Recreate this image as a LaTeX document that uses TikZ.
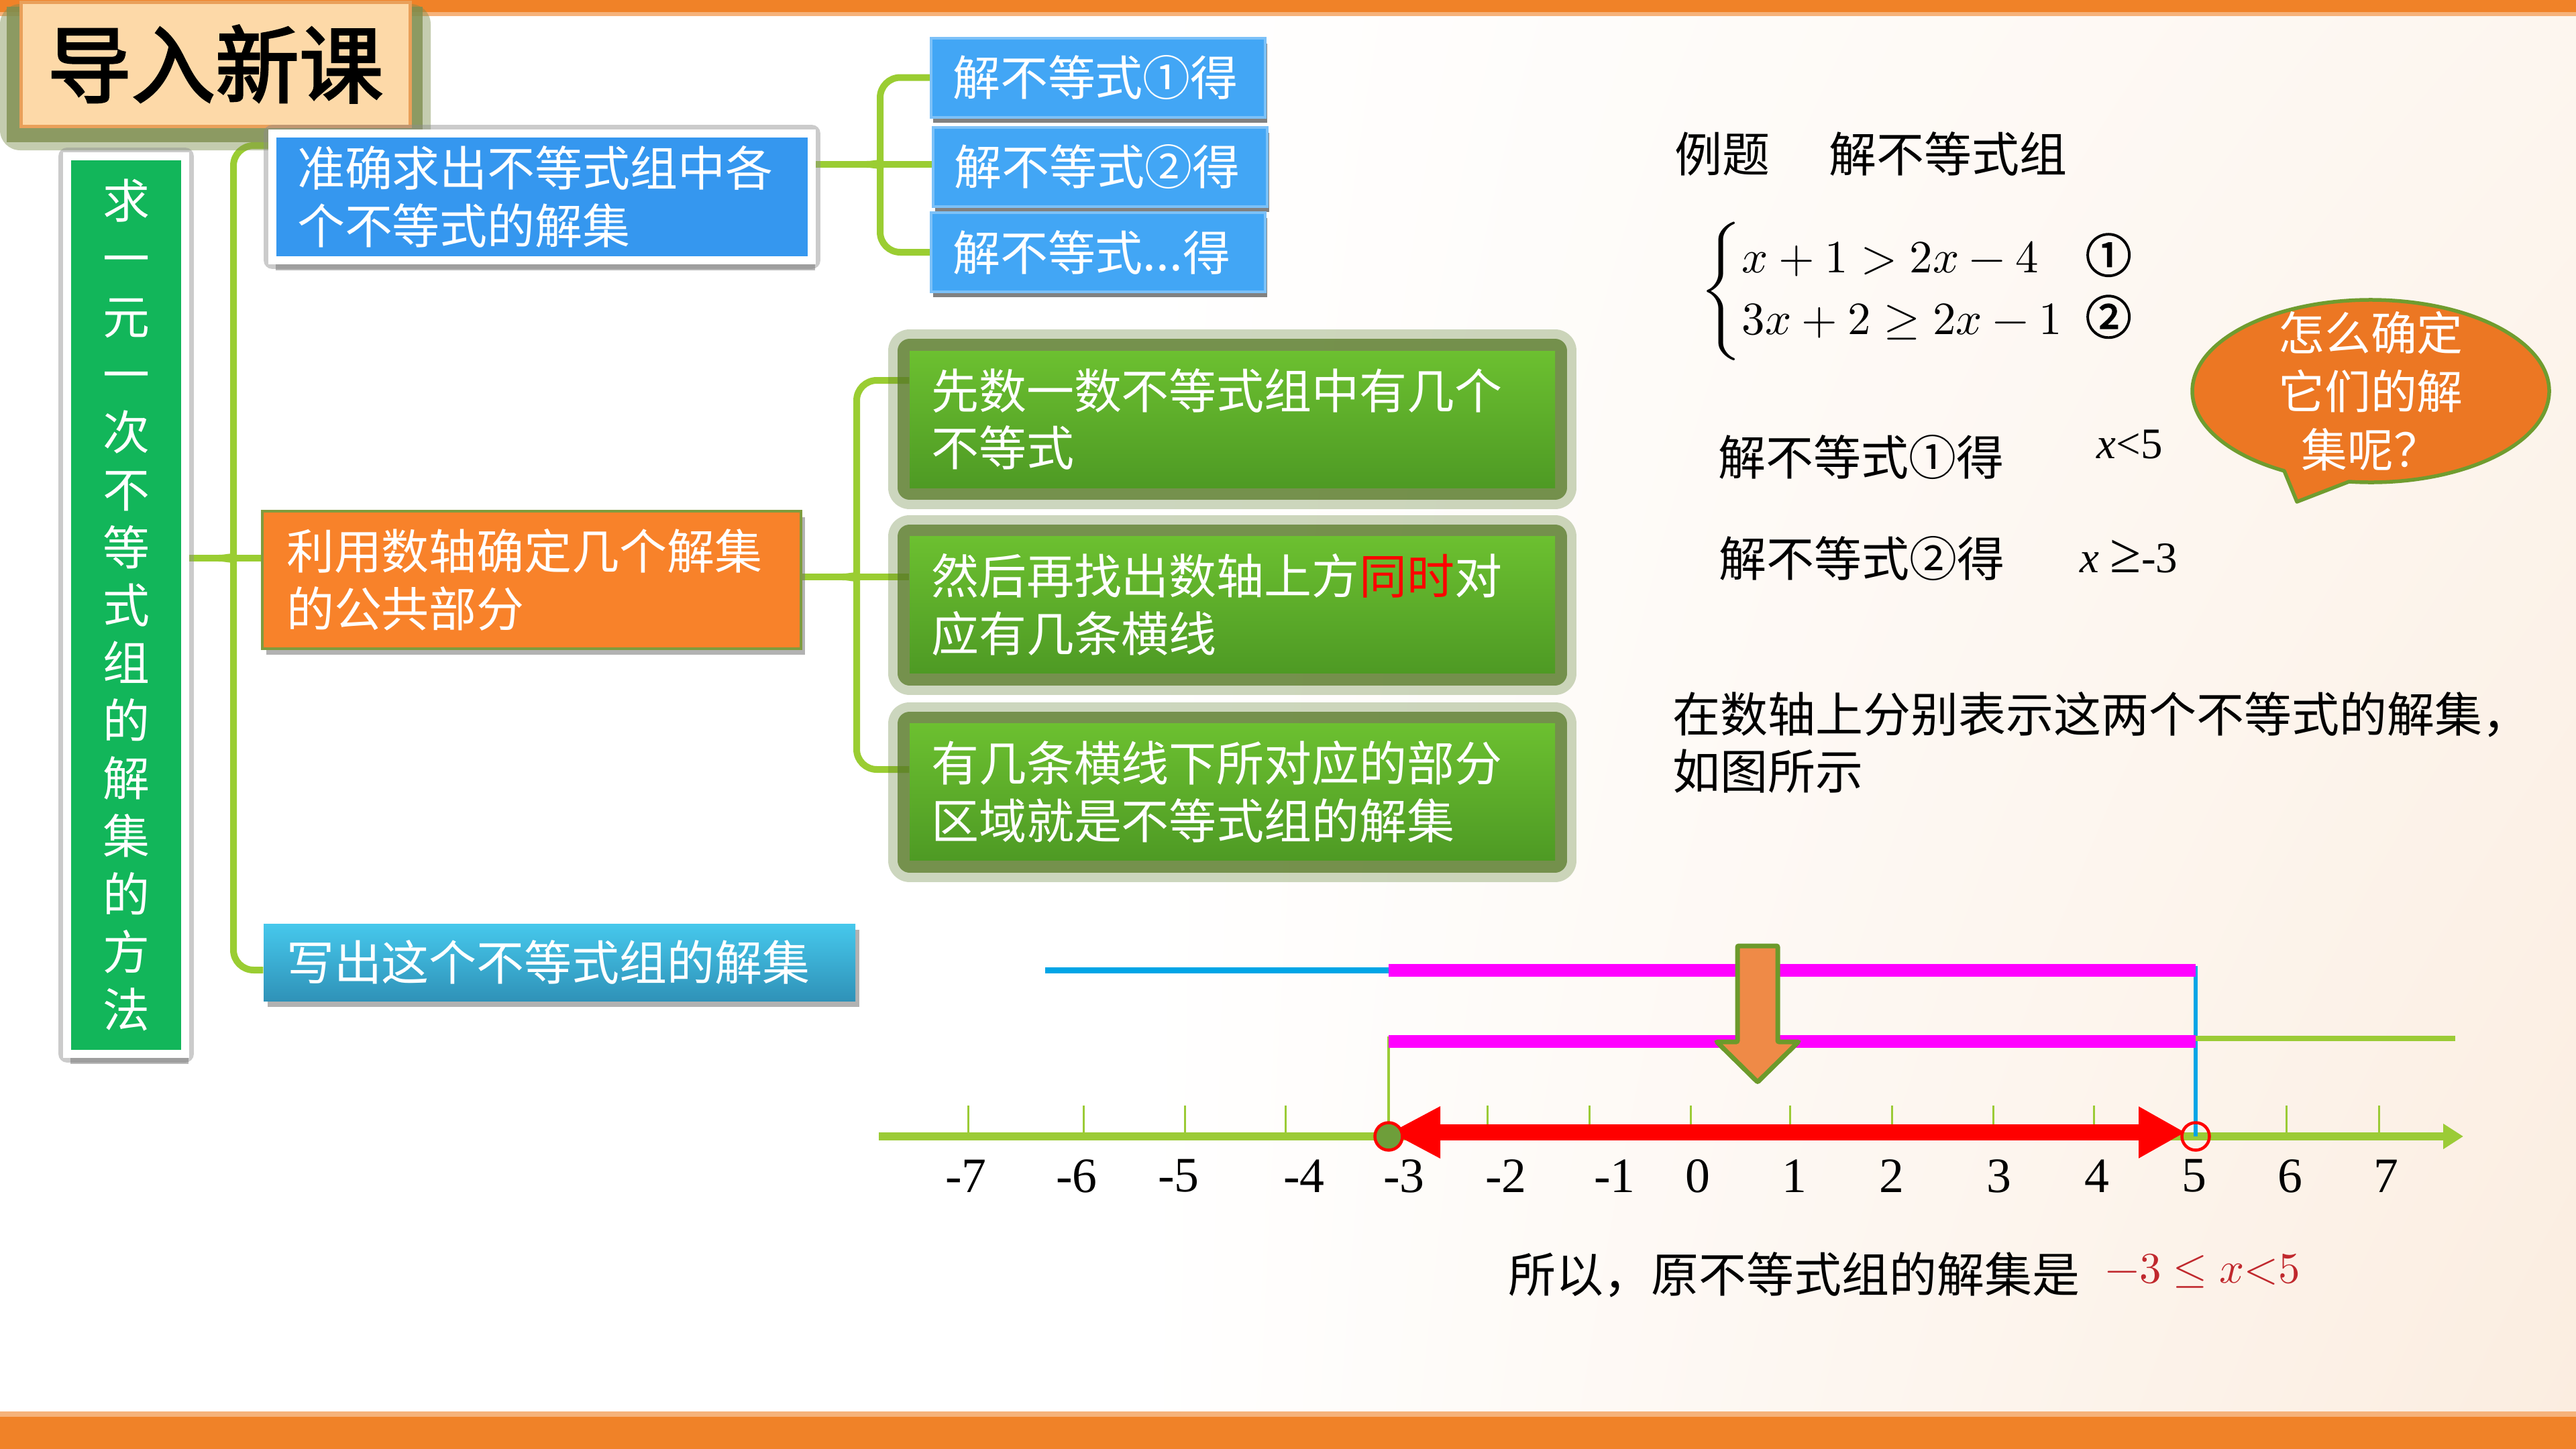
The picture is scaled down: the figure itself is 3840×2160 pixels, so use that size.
\documentclass[tikz,border=0pt]{standalone}
\usepackage{fontspec}
\usepackage{unicode-math}
\setmathfont{Latin Modern Math}
\newfontfamily\cjk{Noto Sans CJK SC}
\newfontfamily\cjkb[FakeBold=2.5]{Noto Sans CJK SC}
\newfontfamily\tms{Liberation Serif}
\usetikzlibrary{shadows,shadings,calc,arrows.meta}
\definecolor{topbar}{HTML}{F08228}
\definecolor{topstrip}{HTML}{F6B27A}
\definecolor{titlefill}{HTML}{FDD9A8}
\definecolor{titledraw}{HTML}{E9A05A}
\definecolor{titleshadow}{HTML}{7E8E4F}
\definecolor{vgreen}{HTML}{12B65A}
\definecolor{bluebig}{HTML}{3597EF}
\definecolor{bluesmall}{HTML}{42A6F5}
\definecolor{bluesmalldraw}{HTML}{7CC1F8}
\definecolor{orangebox}{HTML}{F8822A}
\definecolor{obdraw}{HTML}{7F9C3E}
\definecolor{cyantop}{HTML}{46C8EC}
\definecolor{cyanbot}{HTML}{2F92B8}
\definecolor{gtop}{HTML}{6CC030}
\definecolor{gbot}{HTML}{4E9A24}
\definecolor{glow}{HTML}{587A28}
\definecolor{linkgreen}{HTML}{9ACD32}
\definecolor{bubblefill}{HTML}{EC7723}
\definecolor{bubbledraw}{HTML}{6F9C2F}
\definecolor{magbar}{HTML}{FF00FF}
\definecolor{bline}{HTML}{00A5E6}
\definecolor{axisgreen}{HTML}{9BCB36}
\definecolor{dotgreen}{HTML}{6E9E3A}
\definecolor{redarr}{HTML}{FF0000}
\definecolor{arrowfill}{HTML}{EF8A47}
\definecolor{arrowdraw}{HTML}{6C9A2B}
\definecolor{resred}{HTML}{C0282D}
\definecolor{warmbg}{HTML}{FBEDE0}
\definecolor{warmmid}{HTML}{FDF6EF}
\pgfdeclarelayer{bg}
\pgfdeclarelayer{background}
\pgfsetlayers{bg,background,main}
\begin{document}
\begin{tikzpicture}[x=0.1mm,y=-0.1mm,
  every node/.style={inner sep=0pt},
  cn/.style={font=\cjk\fontsize{20.2pt}{24.3pt}\selectfont},
  link/.style={draw=linkgreen,line width=1mm},
  boxbase/.style={cn,text=white,align=left},
  shad/.style={drop shadow={shadow xshift=0.6mm,shadow yshift=-0.9mm,fill=black!55,opacity=.55}},
  framed/.style={draw=white,line width=1.2mm,
    preaction={draw=black!45,line width=2.6mm,draw opacity=.45,line join=round},
    drop shadow={shadow xshift=0.5mm,shadow yshift=-1.5mm,fill=black!55,opacity=.5}},
  sbox/.style={boxbase,fill=bluesmall,draw=bluesmalldraw,line width=0.4mm,minimum width=49.8mm,minimum height=11.8mm,text width=43.4mm,
    drop shadow={shadow xshift=0.3mm,shadow yshift=-0.8mm,fill=black!70,opacity=.7}},
  gbox/.style={boxbase,top color=gtop,bottom color=gbot,minimum width=96.2mm,minimum height=20.4mm,text width=89.8mm,
    preaction={draw=glow,line width=6.4mm,draw opacity=.3,line join=round},
    preaction={draw=glow,line width=3.6mm,draw opacity=.75,line join=round}},
  numlbl/.style={font=\tms\fontsize{21pt}{24pt}\selectfont},
  tick/.style={draw=axisgreen,line width=0.3mm},
]
\useasboundingbox (0,0) rectangle (3840,2160);
\begin{pgfonlayer}{bg}
\fill[white] (0,0) rectangle (3840,2160);
\shade[upper left=white,lower left=white,upper right=warmmid,lower right=warmbg] (1700,24) rectangle (3840,2106);
\end{pgfonlayer}
% bars
\fill[topbar] (0,0) rectangle (3840,18);
\fill[topstrip] (0,18) rectangle (3840,24);
\fill[topstrip] (0,2104) rectangle (3840,2112);
\fill[topbar] (0,2112) rectangle (3840,2160);

% title
\fill[titleshadow,opacity=.45,rounded corners=3mm] (0,6) rectangle (642,224);
\fill[titleshadow,opacity=.8] (10,10) rectangle (630,212);
\node[fill=titlefill,draw=titledraw,line width=0.5mm,minimum width=58mm,minimum height=18.5mm,
  font=\cjkb\fontsize{35.6pt}{40pt}\selectfont] (title) at (321,95.5) {导入新课};

% left vertical box
\node[boxbase,fill=vgreen,framed,minimum width=17.6mm,minimum height=133.8mm,
  text width=7.2mm,align=center,font=\cjk\fontsize{19.9pt}{24.5pt}\selectfont] (vbox) at (188,902)
  {求\\一\\元\\一\\次\\不\\等\\式\\组\\的\\解\\集\\的\\方\\法};

% level 1 boxes
\node[boxbase,fill=bluebig,framed,minimum width=80.4mm,minimum height=18.9mm,
  text width=73mm] (B1) at (808,293.5) {准确求出不等式组中各\\个不等式的解集};
\node[boxbase,fill=orangebox,draw=obdraw,line width=0.35mm,minimum width=80.3mm,minimum height=20.5mm,
  text width=73.1mm,shad] (O) at (792.5,864.5) {利用数轴确定几个解集\\的公共部分};
\node[boxbase,top color=cyantop,bottom color=cyanbot,minimum width=88.2mm,minimum height=11.5mm,
  text width=81.4mm,shad] (W) at (834,1434.5) {写出这个不等式组的解集};

% level 2 boxes
\node[sbox] (S1) at (1637,115.5) {解不等式①得};
\node[sbox] (S2) at (1639.5,249) {解不等式②得};
\node[sbox] (S3) at (1637,376) {解不等式...得};
\node[gbox] (G1) at (1837,625) {先数一数不等式组中有几个\\不等式};
\node[gbox] (G2) at (1837,901.5) {然后再找出数轴上方\textcolor{red}{同时}对\\应有几条横线};
\node[gbox] (G3) at (1837,1180.5) {有几条横线下所对应的部分\\区域就是不等式组的解集};

% connectors (brackets)
\coordinate (k1) at (348,832);
\coordinate (k1t) at (348,217);
\coordinate (k1b) at (348,1446);
\coordinate (k2) at (1312,245);
\coordinate (k3) at (1277,860);
\coordinate (k3t) at (1277,567);
\coordinate (k3b) at (1277,1147);
\begin{pgfonlayer}{background}
\draw[link] (vbox.east |- k1) -- (O.west |- k1);
\draw[link] (B1.west |- k1t) [rounded corners=3mm] -- (k1t) -- (348,807) [sharp corners] .. controls (348,826) and (343,832) .. (326,832);
\draw[link] (W.west |- k1b) [rounded corners=3mm] -- (k1b) -- (348,857) [sharp corners] .. controls (348,838) and (343,832) .. (326,832);
\draw[link] (B1.east |- k2) -- (S2.west |- k2);
\draw[link] (S1.west) [rounded corners=3mm] -- (S1.west -| k2) -- (1312,222) [sharp corners] .. controls (1312,239) and (1307,245) .. (1292,245);
\draw[link] (S3.west) [rounded corners=3mm] -- (S3.west -| k2) -- (1312,268) [sharp corners] .. controls (1312,251) and (1307,245) .. (1292,245);
\draw[link] (O.east |- k3) -- (G2.west |- k3);
\draw[link] (G1.west |- k3t) [rounded corners=3mm] -- (k3t) -- (1277,835) [sharp corners] .. controls (1277,854) and (1272,860) .. (1256,860);
\draw[link] (G3.west |- k3b) [rounded corners=3mm] -- (k3b) -- (1277,885) [sharp corners] .. controls (1277,866) and (1272,860) .. (1256,860);
\end{pgfonlayer}

% right-hand texts
\node[cn,anchor=west] (ex) at (2496,229) {例题\hspace{8.8mm}解不等式组};
\node[anchor=west,font=\fontsize{19.6pt}{26.2pt}\selectfont] (eq) at (2534,434)
  {$\left\{\begin{array}{@{}l@{\hspace{3.5mm}}l@{}} x+1>2x-4 & \mbox{\cjkb ①}\\ 3x+2\geq 2x-1 & \mbox{\cjkb ②}\end{array}\right.$};
\node[cn,anchor=west] (s1) at (2561,682) {解不等式①得};
\node[anchor=west,font=\tms\fontsize{18.5pt}{21pt}\selectfont] (r1) at (3125,663) {\textit{x}<5};
\node[cn,anchor=west] (s2) at (2562,833) {解不等式②得};
\node[anchor=west,font=\tms\fontsize{18.5pt}{21pt}\selectfont] (r2) at (3100,830) {\textit{x} {\fontsize{24pt}{24pt}\selectfont ≥}-3};
\node[cn,anchor=west,align=left] (desc) at (2493,1107) {在数轴上分别表示这两个不等式的解集，\\如图所示};

% speech bubble
\coordinate (bc) at (3534,583);
\coordinate (btip) at (3424,748);
\filldraw[fill=bubblefill,draw=bubbledraw,line width=0.55mm,line join=round]
  ($(bc)+(263:26.6mm and 13.6mm)$) arc[start angle=263,end angle=601,x radius=26.6mm,y radius=13.6mm] -- (btip) -- cycle;
\node[text=white,align=center,font=\cjk\fontsize{19.6pt}{24.7pt}\selectfont] (bq) at (bc) {怎么确定\\它们的解\\集呢？};

% number line
\coordinate (axL) at (1310,1694);
\coordinate (axR) at (3672,1694);
\draw[draw=axisgreen,line width=1.2mm,-{Triangle[length=3mm,width=3.6mm]}] (axL) -- (axR);
\foreach \v/\px in {-7/1443,-6/1615,-5/1766,-4/1916,-3/2070,-2/2217,-1/2369,0/2520,1/2668,2/2820,3/2971,4/3121,5/3273,6/3408,7/3546}{
  \coordinate (t\v) at (\px,1694);
  \draw[tick] (t\v) -- ++(0,-46);
}
\foreach \v/\lx in {-7/1440,-6/1605,-5/1757,-4/1944,-3/2093,-2/2245,-1/2407,0/2531,1/2675,2/2820,3/2980,4/3126,5/3271,6/3414,7/3557}{
  \node[numlbl] (n\v) at (\lx,1753) {\v};
}
\coordinate (u1) at (1558,1446);
\coordinate (u2) at (2070,1446);
\coordinate (u3) at (3273,1446);
\coordinate (l1) at (2070,1552);
\coordinate (l2) at (3273,1552);
\coordinate (l2g) at (3273,1548);
\coordinate (l3) at (3660,1548);
\coordinate (vg) at (2070,1545);
\coordinate (vb) at (3273,1440);
\draw[draw=axisgreen,line width=0.45mm] (vg) -- (t-3);
\draw[draw=bline,line width=0.65mm] (vb) -- (t5);
\draw[draw=bline,line width=0.9mm] (u1) -- (u2);
\draw[draw=magbar,line width=1.9mm] (u2) -- (u3);
\draw[draw=magbar,line width=1.9mm] (l1) -- (l2);
\draw[draw=axisgreen,line width=0.8mm] (l2g) -- (l3);
\coordinate (ra1) at (2072,1688);
\coordinate (ra2) at (3258,1688);
\draw[draw=redarr,line width=2.4mm,{Triangle[length=7.5mm,width=7.2mm]}-{Triangle[length=7mm,width=7.2mm]}] (ra1) -- (ra2);
\draw[draw=redarr,line width=0.45mm,fill=dotgreen] (t-3) circle[radius=2.05mm];
\draw[draw=redarr,line width=0.45mm] (t5) circle[radius=2.05mm];
% orange down arrow
\filldraw[fill=arrowfill,draw=arrowdraw,line width=0.7mm,rounded corners=0.2mm]
  (2590,1410) -- (2650,1410) -- (2650,1553) -- (2681,1553) -- (2620,1613) -- (2559,1553) -- (2590,1553) -- cycle;

% result
\node[cn,anchor=west] (res) at (2248,1900) {所以，原不等式组的解集是};
\node[anchor=west,text=resred,font=\fontsize{18.5pt}{22pt}\selectfont] (resm) at (3138,1895) {$-3\leq x{<}5$};
\end{tikzpicture}
\end{document}
